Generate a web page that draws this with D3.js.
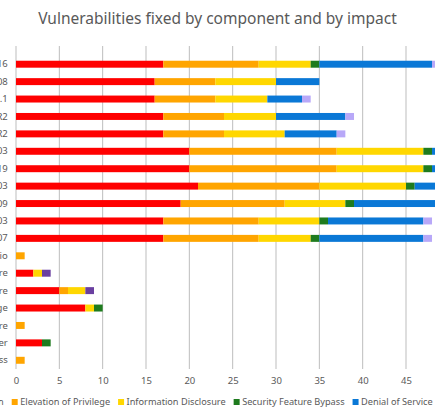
<!DOCTYPE html>
<html><head><meta charset="utf-8">
<script src="https://cdn.jsdelivr.net/npm/d3@7"></script>
<style>html,body{margin:0;padding:0;background:#fff;overflow:hidden}svg{display:block}</style>
</head><body>
<script>
const categories = ["Windows Server 2016","Windows Server 2008","Windows RT 8.1","Windows Server 2012 R2","Windows Server 2008 R2","Windows 10 Version 1903","Windows Server 2019","Windows 10 Version 1803","Windows 10 Version 1809","Windows 10 Version 1703","Windows 10 Version 1607","Visual Studio","ChakraCore","Microsoft Office Software","Microsoft Edge","Azure","Internet Explorer","Microsoft Access"];
const seriesNames = ["Remote Code Execution","Elevation of Privilege","Information Disclosure","Security Feature Bypass","Denial of Service","Spoofing","Tampering"];
const rce       = [17,16,16,17,17,20,20,21,19,17,17,0,2,5,8,0,3,0];
const eop       = [11,7,7,7,7,17,17,14,12,11,11,1,0,1,0,1,0,1];
const infoDisc  = [6,7,6,6,7,10,10,10,7,7,6,0,1,2,1,0,0,0];
const sfb       = [1,0,0,0,0,1,1,1,1,1,1,0,0,0,1,0,1,0];
const dos       = [13,5,4,8,6,4,4,6,12,11,12,0,0,0,0,0,0,0];
const spoofing  = [0,0,0,0,0,0,0,0,0,0,0,0,1,1,0,0,0,0];
const tampering = [1,0,1,1,1,0,0,0,0,1,1,0,0,0,0,0,0,0];
const xTicks = [0,5,10,15,20,25,30,35,40,45,50];
const colors = ["#FF0000","#FFA500","#FFD700","#1E7B1E","#0A78D6","#6A3FA0","#B8A8F8"];

const W = 435, H = 415;
const svg = d3.select("body").append("svg").attr("width", W).attr("height", H);
const font = "'Noto Sans', 'Open Sans', sans-serif";
const txt = "#595959";

const values = [rce, eop, infoDisc, sfb, dos, spoofing, tampering];
const table = categories.map((c, i) => {
  const o = {cat: c};
  seriesNames.forEach((s, j) => o[s] = values[j][i]);
  return o;
});
const stacked = d3.stack().keys(seriesNames)(table);

const x = d3.scaleLinear().domain([0, 50]).range([16, 16 + 50 * 8.667]);
const y = d3.scaleBand().domain(categories).range([55.5, 369]).paddingInner(0.6).paddingOuter(0.3);

// gridlines
svg.append("g").selectAll("line").data(xTicks).join("line")
  .attr("x1", d => x(d)).attr("x2", d => x(d))
  .attr("y1", 46).attr("y2", 369)
  .attr("stroke", "#BDBDBD").attr("stroke-width", 1);

// bars
svg.append("g").selectAll("g").data(stacked).join("g")
  .attr("fill", (d, i) => colors[i])
  .selectAll("rect").data(d => d).join("rect")
  .attr("x", d => x(d[0]))
  .attr("width", d => x(d[1]) - x(d[0]))
  .attr("y", d => y(d.data.cat))
  .attr("height", y.bandwidth());

// x axis labels
const xAxis = d3.axisBottom(x).tickValues(xTicks).tickSize(0).tickPadding(0);
const gx = svg.append("g").attr("transform", "translate(0,377.5)").call(xAxis);
gx.select(".domain").remove();
gx.selectAll("text").attr("fill", txt).attr("font-family", font).attr("font-size", 9.5);

// y axis labels
const yAxis = d3.axisLeft(y).tickSize(0).tickPadding(0);
const gy = svg.append("g").attr("transform", "translate(7.8,0)").call(yAxis);
gy.select(".domain").remove();
gy.selectAll("text").attr("fill", txt).attr("font-family", font).attr("font-size", 9.5);

// title
const title = svg.append("text").attr("x", 217.5).attr("y", 24).attr("text-anchor", "middle")
  .attr("font-family", font).attr("fill", txt).attr("font-size", 16)
  .text("Vulnerabilities fixed by component and by impact");
const tw = title.node().getComputedTextLength();
title.attr("font-size", 16 * 359 / tw);

// legend
const lg = svg.append("g");
const items = lg.selectAll("g").data(seriesNames).join("g");
items.append("rect").attr("width", 6).attr("height", 6).attr("y", -3).attr("fill", (d, i) => colors[i]);
items.append("text").attr("x", 8.5).attr("dy", "0.35em").attr("font-family", font).attr("font-size", 10).attr("fill", txt).text(d => d);
const eText = items.filter((d, i) => i === 1).select("text").node();
const ew = eText.getComputedTextLength();
const lfs = 10 * 90 / ew;
items.selectAll("text").attr("font-size", lfs);
const widths = [];
items.each(function () { widths.push(d3.select(this).select("text").node().getComputedTextLength() + 8.5 + 8); });
let pos = [];
pos[1] = 11.7;
pos[0] = pos[1] - widths[0];
for (let i = 2; i < seriesNames.length; i++) pos[i] = pos[i - 1] + widths[i - 1];
items.attr("transform", (d, i) => `translate(${pos[i]},402)`);
</script>
</body></html>
